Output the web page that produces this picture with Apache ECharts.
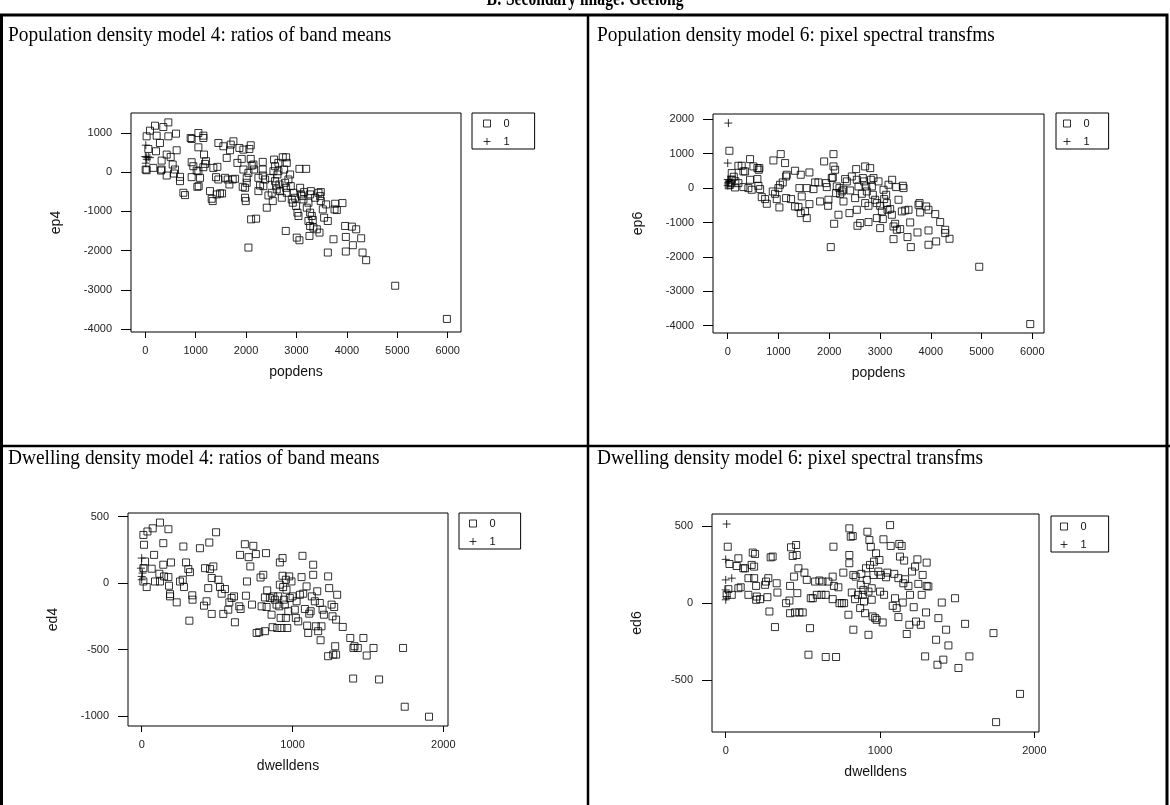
<!DOCTYPE html>
<html>
<head>
<meta charset="utf-8">
<script src="https://cdn.jsdelivr.net/npm/echarts@6/dist/echarts.min.js"></script>
<style>
  html, body { margin: 0; background: #fff; }
  #main { width: 1170px; height: 805px; }
</style>
</head>
<body>
<div id="main"></div>
<script>
// ---- data: [x, y] pairs, group 0 (squares) and group 1 (plus) ----
var popTicks = [0, 1000, 2000, 3000, 4000, 5000, 6000];
var dwellTicks = [0, 1000, 2000];
var ep4Ticks = [-4000, -3000, -2000, -1000, 0, 1000];
var ep6Ticks = [-4000, -3000, -2000, -1000, 0, 1000, 2000];
var ed4Ticks = [-1000, -500, 0, 500];
var ed6Ticks = [-500, 0, 500];
var groups = ['0', '1'];

var ep4Grp0 = [[26,915],[93,1059],[192,1186],[225,932],[357,1152],[457,1270],[457,915],[291,745],[609,983],[60,593],[212,534],[324,296],[424,449],[503,390],[622,559],[543,195],[589,68],[569,-34],[688,-119],[688,-229],[755,-525],[788,-584],[7,68],[26,51],[159,110],[324,68],[424,-85],[311,42],
  [900,872],[920,847],[1053,999],[1152,932],[1152,872],[1053,635],[920,254],[953,152],[920,-127],[1019,42],[1053,25],[1033,-373],[1059,-356],[1086,-144],[1165,449],[1205,280],[1185,212],[1152,127],[1284,-483],[1317,-678],[1337,-737],[1350,110],[1430,136],[1403,-127],[1450,-186],[1417,-567],[1483,-542],[1523,-542],[1450,745],[1549,661],[1615,364],[1582,-144],[1635,-186],[1695,703],[1748,788],[1681,559],[1734,-186],[1827,237],[1781,-169],[1668,-313],[1867,618],[1913,339],[1946,576],[1933,-373],[1979,-398],[1979,-652],[1993,-737],[2012,-144],[2012,-271],[2046,-17],[1946,68],[2065,593],[2092,686],[2092,339],[2112,169],[2145,195],[2158,68],[2099,-1203],[2198,-1186],[2046,-1923],
  [2244,-144],[2244,-483],[2277,-339],[2330,263],[2330,68],[2330,-85],[2343,-356],[2377,-186],[2410,-906],[2443,-593],[2476,-144],[2509,-525],[2529,-737],[2542,25],[2555,322],[2575,152],[2575,-229],[2595,-339],[2608,-440],[2622,-59],[2641,237],[2641,25],[2661,-313],[2674,-483],[2708,-652],[2727,381],[2794,381],[2807,237],[2754,68],[2774,-271],[2794,-398],[2807,-525],[2840,-186],[2873,-59],[2886,-356],[2906,-695],[2926,-779],[2939,-525],[2972,-652],[2992,-864],[3019,-1033],[3039,-1118],[3058,85],[3072,-398],[3092,-567],[3105,-610],[3138,-695],[3151,-508],[3191,85],[3204,-906],[3237,-779],[3270,-567],[3284,-483],[3270,-1033],[3303,-1118],[3323,-1220],[3237,-1245],[3270,-1372],[3257,-1626],[3336,-1414],[3403,-1457],[3456,-1541],[3370,-652],[3436,-525],[3469,-610],[3482,-737],[3522,-949],[3548,-1160],[3588,-822],[3621,-1245],[3482,-508],[2787,-1499],[3005,-1669],[3058,-1736],[3754,-949],[3800,-966],[3734,-1711],[3767,-805],[3912,-788],[3965,-1372],[4098,-1389],[3979,-1652],[3979,-2024],[4118,-1863],[4184,-1457],[4283,-1686],[4310,-2050],[4382,-2245],[3621,-2050],[4958,-2897],[5984,-3744]];
var ep4Grp1 = [[10,690],[20,380],[60,390],[90,370],[30,330],[10,230],[0,400]];

var ep6Grp0 = [[33,1085],[79,436],[210,649],[276,649],[309,485],[342,485],[440,843],[506,630],[585,581],[611,533],[624,581],[145,19],[210,145],[309,29],[407,0],[440,242],[473,-48],[585,262],[604,68],[638,-29],[670,-262],[736,-320],[769,-455],[20,80],[60,150],[120,330],[150,200],[50,100],[80,250],
  [900,804],[887,-97],[933,-165],[966,-320],[999,0],[1018,-562],[1044,988],[1031,97],[1084,165],[1130,727],[1150,339],[1163,388],[1150,-291],[1248,-320],[1327,504],[1327,-533],[1393,-552],[1412,0],[1439,388],[1458,-242],[1439,-727],[1524,-678],[1557,-872],[1609,-465],[1609,455],[1557,0],[1689,-29],[1722,165],[1787,165],[1820,-388],[1899,775],[1951,29],[1984,-339],[1978,-514],[1938,145],[2050,291],[2030,-1715],[2070,310],[2083,630],[2116,533],[2096,-1037],[2083,988],[2135,-145],[2148,48],[2181,-775],[2201,0],[2214,-165],[2247,-97],[2280,-48],[2280,-388],[2313,262],[2346,194],[2398,-727],[2412,-68],[2444,339],[2510,-291],[2530,552],[2543,242],[2543,-630],[2556,-1095],[2576,48],[2609,-1017],[2641,-165],[2661,291],[2687,194],[2707,630],[2707,-436],[2727,48],[2740,-97],[2773,-514],[2773,-988],[2806,581],[2819,242],[2839,48],[2858,-194],[2871,291],[2904,-339],[2937,-436],[2937,-872],[2970,194],[3003,-514],[3003,-1163],[3036,-678],[3055,-901],[3069,-48],[3082,-320],[3134,-436],[3121,-194],[3148,-630],[3167,97],[3200,-610],[3233,-775],[3239,242],[3266,-1114],[3266,-1483],[3298,-1037],[3318,29],[3331,-1211],[3364,-339],[3397,-1192],[3430,-678],[3449,68],[3463,0],[3496,-649],[3541,-1424],[3561,-630],[3594,-998],[3607,-1715],[3738,-1289],[3758,-485],[3778,-436],[3791,-707],[3909,-533],[3955,-1231],[3955,-1647],[3955,-630],[4087,-756],[4106,-1550],[4185,-988],[4284,-1211],[4284,-1308],[4369,-1473],[4954,-2287],[5959,-3953]];
var ep6Grp1 = [[13,1890],[0,727],[0,250],[10,150],[20,200],[0,80],[30,230]];

var ed4Grp0 = [[11,362],[15,288],[38,388],[73,412],[121,455],[177,405],[143,300],[276,275],[22,162],[11,112],[11,12],[33,-30],[66,108],[82,212],[88,12],[117,70],[121,12],[143,138],[148,50],[177,45],[181,-20],[188,-83],[194,155],[188,-100],[232,-145],[254,12],[272,25],[280,-30],[294,155],[309,105],[320,82],[316,-283],[335,-92],[337,-125],[386,262],[413,-170],[420,112],[430,-137],[441,-38],[448,305],[453,105],[464,38],[464,-232],[475,125],[493,382],[508,25],[519,-30],[530,-80],[541,-232],[552,-45],[574,-200],[581,-145],[596,-112],[612,-100],[618,-295],[647,-175],[652,212],[656,-195],[684,292],[691,-95],[698,12],[709,195],[720,125],[731,-162],[740,280],[757,218],[762,-375],[779,-370],[788,42],[795,-175],[806,62],[817,-108],[817,-362],[824,225],[828,-180],[832,-55],[850,-112],[861,-238],[868,-332],[872,-100],[883,-125],[894,-162],[899,-338],[905,-100],[912,-175],[916,155],[916,-12],[921,-262],[927,-338],[934,188],[934,55],[938,-30],[943,-125],[949,-162],[956,25],[956,-262],[960,-50],[965,-338],[972,-212],[978,50],[982,-112],[993,12],[1000,-100],[1015,-200],[1022,-262],[1027,-137],[1038,-288],[1049,-88],[1060,45],[1066,205],[1071,-80],[1082,-195],[1093,-25],[1097,-320],[1104,-375],[1111,-230],[1120,-212],[1128,-100],[1137,138],[1137,62],[1148,-137],[1155,-325],[1164,-62],[1170,-362],[1181,-150],[1186,-430],[1192,-325],[1199,-200],[1208,-238],[1236,50],[1243,-38],[1236,-550],[1259,-162],[1265,-250],[1270,-538],[1276,-180],[1283,-475],[1289,-538],[1296,-88],[1289,-275],[1333,-330],[1383,-413],[1404,-488],[1411,-475],[1433,-488],[1470,-413],[1492,-545],[1537,-488],[1402,-718],[1574,-725],[1733,-488],[1744,-930],[1905,-1005]];
var ed4Grp1 = [[0,188],[0,50],[0,25],[-5,112],[5,75]];

var ed6Grp0 = [[13,366],[24,254],[6,54],[17,91],[39,54],[71,241],[82,291],[82,97],[97,103],[114,226],[125,226],[147,162],[147,54],[168,248],[175,328],[184,237],[184,162],[190,319],[197,112],[197,22],[201,43],[223,26],[255,119],[261,140],[270,39],[276,162],[283,-54],[291,297],[304,302],[319,-155],[330,129],[335,69],[391,0],[413,17],[417,112],[417,-65],[423,362],[434,306],[443,172],[449,-60],[456,377],[460,312],[464,65],[471,226],[477,-60],[499,-60],[510,198],[525,151],[536,-334],[546,-162],[551,32],[564,32],[579,140],[590,54],[607,147],[620,54],[627,140],[648,54],[648,-349],[665,140],[693,26],[693,172],[698,366],[701,112],[715,-349],[730,103],[737,0],[752,0],[762,198],[767,0],[795,-75],[801,485],[801,312],[801,259],[810,431],[817,69],[823,435],[827,-172],[827,183],[838,26],[842,172],[857,54],[871,-32],[875,119],[879,190],[888,54],[892,86],[896,11],[903,-65],[909,226],[914,151],[918,463],[925,75],[925,-205],[931,409],[935,248],[940,366],[946,97],[946,22],[952,-86],[957,183],[961,269],[968,-97],[974,323],[978,-108],[989,205],[996,280],[1000,75],[1005,183],[1017,-125],[1022,414],[1026,54],[1039,168],[1047,198],[1065,506],[1069,371],[1082,-17],[1092,190],[1097,32],[1108,-32],[1119,-90],[1119,162],[1125,384],[1129,302],[1140,371],[1147,4],[1151,129],[1156,276],[1162,155],[1173,-200],[1184,112],[1190,-140],[1194,54],[1207,205],[1218,-26],[1227,237],[1233,-119],[1242,284],[1248,125],[1264,-140],[1270,54],[1276,183],[1292,-345],[1298,-60],[1302,263],[1302,112],[1313,108],[1363,-237],[1372,-399],[1378,-97],[1400,4],[1410,-366],[1428,-172],[1443,-274],[1486,32],[1508,-420],[1551,-134],[1579,-345],[1735,-194],[1907,-588],[1752,-771]];
var ed6Grp1 = [[6,513],[0,284],[0,151],[39,162],[0,86],[0,22],[6,43]];

// ---- layout of the four panels (pixels and axis extents) ----
var panels = [
  { grid: { left: 131, top: 113, width: 330, height: 219 }, xr: [-284, 6264], yr: [-4077, 1510],
    xt: popTicks, yt: ep4Ticks, xname: 'popdens', yname: 'ep4', d0: ep4Grp0, d1: ep4Grp1,
    legend: { left: 472, top: 113, padding: [5, 25, 2, 11] } },
  { grid: { left: 713, top: 114, width: 331, height: 219 }, xr: [-290, 6230], yr: [-4212, 2154],
    xt: popTicks, yt: ep6Ticks, xname: 'popdens', yname: 'ep6', d0: ep6Grp0, d1: ep6Grp1,
    legend: { left: 1056, top: 113, padding: [5, 19, 2, 7] } },
  { grid: { left: 128, top: 513, width: 320, height: 213 }, xr: [-91, 2031], yr: [-1075, 527],
    xt: dwellTicks, yt: ed4Ticks, xname: 'dwelldens', yname: 'ed4', d0: ed4Grp0, d1: ed4Grp1,
    legend: { left: 459, top: 513, padding: [5, 25, 2, 10] } },
  { grid: { left: 712, top: 514, width: 327, height: 218 }, xr: [-89, 2030], yr: [-835, 578],
    xt: dwellTicks, yt: ed6Ticks, xname: 'dwelldens', yname: 'ed6', d0: ed6Grp0, d1: ed6Grp1,
    legend: { left: 1051, top: 516, padding: [5, 22, 2, 9] } }
];

var sans = '"Liberation Sans", Arial, sans-serif';
var serif = '"Liberation Serif", "Times New Roman", serif';
var plusPath = 'path://M0,4L8,4M4,0L4,8';
var hollow = { color: 'rgba(0,0,0,0)', borderColor: '#000', borderWidth: 1 };
var plain = function (v) { return String(v); };

var grids = [], xAxes = [], yAxes = [], series = [], legends = [];
panels.forEach(function (p, i) {
  grids.push(Object.assign({ show: true, borderColor: '#000', borderWidth: 1, backgroundColor: 'transparent' }, p.grid));
  xAxes.push({
    type: 'value', gridIndex: i, min: p.xr[0], max: p.xr[1], position: 'bottom',
    axisLine: { show: false, onZero: false }, splitLine: { show: false },
    axisTick: { show: true, length: 6, customValues: p.xt, lineStyle: { color: '#000' } },
    axisLabel: { customValues: p.xt, formatter: plain, margin: 13, fontSize: 11, color: '#222', fontFamily: sans },
    name: p.xname, nameLocation: 'middle', nameGap: 33,
    nameTextStyle: { fontSize: 14, color: '#111', fontFamily: sans }
  });
  yAxes.push({
    type: 'value', gridIndex: i, min: p.yr[0], max: p.yr[1], position: 'left',
    axisLine: { show: false, onZero: false }, splitLine: { show: false },
    axisTick: { show: true, length: 10, customValues: p.yt, lineStyle: { color: '#000' } },
    axisLabel: { customValues: p.yt, formatter: plain, margin: 19, fontSize: 11, color: '#222', fontFamily: sans },
    name: p.yname, nameLocation: 'middle', nameGap: 68,
    nameTextStyle: { fontSize: 14, color: '#111', fontFamily: sans }
  });
  series.push({
    type: 'scatter', name: groups[0], xAxisIndex: i, yAxisIndex: i, data: p.d0,
    symbol: 'rect', symbolSize: 7, itemStyle: hollow, silent: true
  });
  series.push({
    type: 'scatter', name: groups[1], xAxisIndex: i, yAxisIndex: i, data: p.d1,
    symbol: plusPath, symbolSize: 8, itemStyle: hollow, silent: true
  });
  legends.push({
    data: groups, orient: 'vertical', left: p.legend.left, top: p.legend.top,
    padding: p.legend.padding, itemGap: 7, itemWidth: 7, itemHeight: 7,
    borderColor: '#000', borderWidth: 1, selectedMode: false,
    itemStyle: hollow,
    textStyle: { fontSize: 11, color: '#111', fontFamily: sans, padding: [0, 0, 0, 8] }
  });
});

var titleFont = '22px ' + serif;
var option = {
  animation: false,
  backgroundColor: '#fff',
  grid: grids,
  xAxis: xAxes,
  yAxis: yAxes,
  legend: legends,
  series: series,
  graphic: [
    { type: 'text', x: 585, y: 10, scaleX: 0.78,
      style: { text: 'B: Secondary image: Geelong', font: 'bold 20px ' + serif, fill: '#000', align: 'center', verticalAlign: 'bottom' } },
    { type: 'rect', shape: { x: 1.5, y: 15, width: 1165.5, height: 800 },
      style: { fill: 'none', stroke: '#000', lineWidth: 3 } },
    { type: 'line', shape: { x1: 588, y1: 15, x2: 588, y2: 805 }, style: { stroke: '#000', lineWidth: 2.5 } },
    { type: 'line', shape: { x1: 0, y1: 446, x2: 1170, y2: 446 }, style: { stroke: '#000', lineWidth: 2.5 } },
    { type: 'text', x: 8, y: 35, scaleX: 0.88,
      style: { text: 'Population density model 4: ratios of band means', font: titleFont, fill: '#000', verticalAlign: 'middle' } },
    { type: 'text', x: 597, y: 35, scaleX: 0.88,
      style: { text: 'Population density model 6: pixel spectral transfms', font: titleFont, fill: '#000', verticalAlign: 'middle' } },
    { type: 'text', x: 8, y: 458, scaleX: 0.88,
      style: { text: 'Dwelling density model 4: ratios of band means', font: titleFont, fill: '#000', verticalAlign: 'middle' } },
    { type: 'text', x: 597, y: 458, scaleX: 0.88,
      style: { text: 'Dwelling density model 6: pixel spectral transfms', font: titleFont, fill: '#000', verticalAlign: 'middle' } }
  ]
};

var chart = echarts.init(document.getElementById('main'));
chart.setOption(option);
</script>
</body>
</html>
